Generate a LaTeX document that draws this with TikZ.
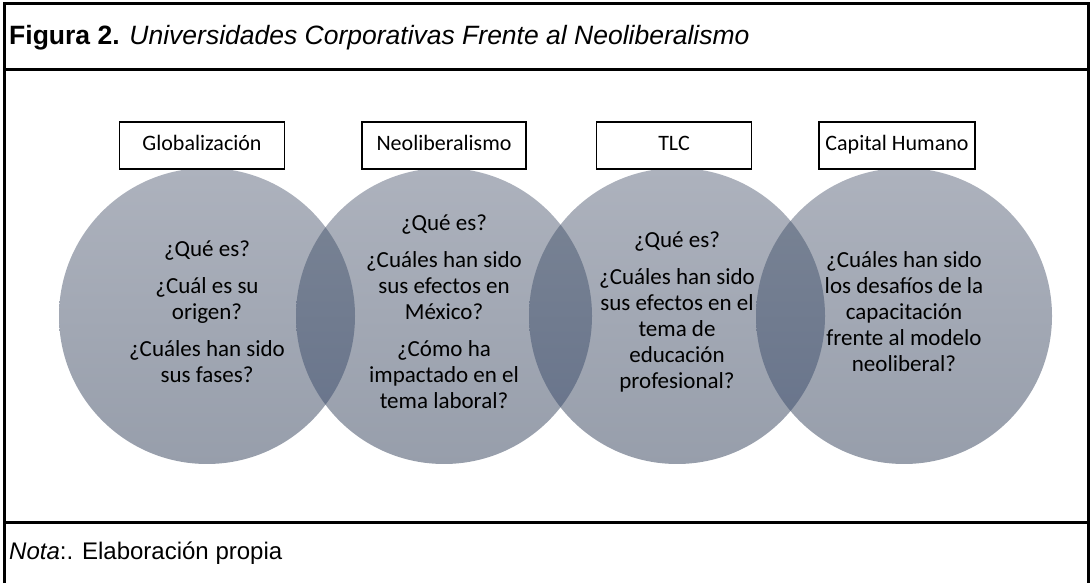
\documentclass[tikz,border=0pt]{standalone}
\usepackage{fontspec}
\setmainfont{Liberation Sans}
\newfontfamily\cali{Carlito}
\definecolor{circtop}{HTML}{ADB2BD}
\definecolor{circbot}{HTML}{979EAB}
\definecolor{lenstop}{HTML}{7B8595}
\definecolor{lensbot}{HTML}{66728A}
\tikzset{
  tema/.style={draw=black, line width=1.1pt, fill=white, minimum width=#1, minimum height=47pt, inner sep=0pt,
    text height=15pt, text depth=5pt, font=\cali\fontsize{22}{26}\selectfont},
  preg/.style={align=center, inner sep=0pt, font=\cali\fontsize{23}{26}\selectfont},
  marco/.style={line width=3pt}
}
\begin{document}
\begin{tikzpicture}[x=1pt,y=1pt]
\useasboundingbox (0,0) rectangle (1091,583);

% circle centres
\coordinate (glo) at (207,267);
\coordinate (neo) at (444,267);
\coordinate (tlc) at (677,267);
\coordinate (cap) at (904,267);

% circles
\foreach \c in {glo,neo,tlc,cap}
  \shade[top color=circtop, bottom color=circbot] (\c) circle (148);

% overlaps
\foreach \a/\b in {glo/neo,neo/tlc,tlc/cap}{
  \begin{scope}
    \clip (\a) circle (148);
    \shade[top color=lenstop, bottom color=lensbot] (\b) circle (148);
  \end{scope}
}

% labels on top
\node[tema=165pt] (tglo) at (202,437.5) {Globalización};
\node[tema=164pt] (tneo) at (444,437.5) {Neoliberalismo};
\node[tema=155pt] (ttlc) at (674,437.5) {TLC};
\node[tema=156pt] (tcap) at (897,437.5) {Capital Humano};

% questions
\node[preg] (qglo) at ([yshift=4]glo) {¿Qué es?\\[11pt]¿Cuál es su\\origen?\\[11pt]¿Cuáles han sido\\sus fases?};
\node[preg] (qneo) at ([yshift=4]neo) {¿Qué es?\\[11pt]¿Cuáles han sido\\sus efectos en\\México?\\[11pt]¿Cómo ha\\impactado en el\\tema laboral?};
\node[preg] (qtlc) at ([yshift=4]tlc) {¿Qué es?\\[11pt]¿Cuáles han sido\\sus efectos en el\\tema de\\educación\\profesional?};
\node[preg] (qcap) at ([yshift=4]cap) {¿Cuáles han sido\\los desafíos de la\\capacitación\\frente al modelo\\neoliberal?};

% frame
\draw[marco] (4,0) -- (4,579) -- (1088,579) -- (1088,0);
\draw[marco] (4,513) -- (1088,513);
\draw[marco] (4,60) -- (1088,60);

\node[anchor=west, inner sep=0pt, font=\fontsize{26.5}{30}\selectfont] (titulo) at (9,545)
  {\textbf{Figura 2.} \textit{Universidades Corporativas Frente al Neoliberalismo}};
\node[anchor=west, inner sep=0pt, font=\fontsize{24}{28}\selectfont] (nota) at (9,30)
  {\textit{Nota}:. Elaboración propia};

\end{tikzpicture}
\end{document}
